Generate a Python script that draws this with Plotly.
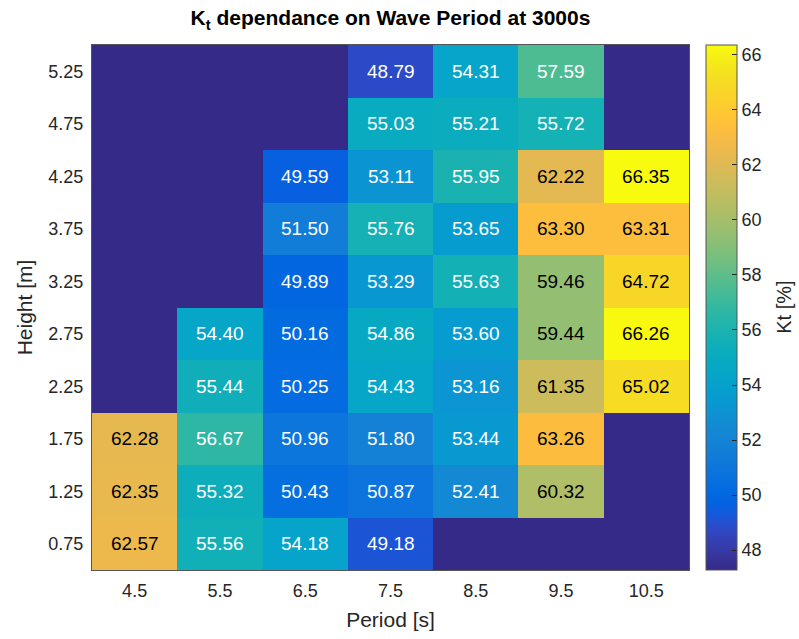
import numpy as np
import plotly.graph_objects as go

# Wave period categories [s] and wave height categories [m]
periods = ["4.5", "5.5", "6.5", "7.5", "8.5", "9.5", "10.5"]
heights = ["0.75", "1.25", "1.75", "2.25", "2.75", "3.25", "3.75", "4.25", "4.75", "5.25"]

# Kt [%] per height row (bottom to top), one value per period; None = no data
kt_h075 = [62.57, 55.56, 54.18, 49.18, None, None, None]
kt_h125 = [62.35, 55.32, 50.43, 50.87, 52.41, 60.32, None]
kt_h175 = [62.28, 56.67, 50.96, 51.80, 53.44, 63.26, None]
kt_h225 = [None, 55.44, 50.25, 54.43, 53.16, 61.35, 65.02]
kt_h275 = [None, 54.40, 50.16, 54.86, 53.60, 59.44, 66.26]
kt_h325 = [None, None, 49.89, 53.29, 55.63, 59.46, 64.72]
kt_h375 = [None, None, 51.50, 55.76, 53.65, 63.30, 63.31]
kt_h425 = [None, None, 49.59, 53.11, 55.95, 62.22, 66.35]
kt_h475 = [None, None, None, 55.03, 55.21, 55.72, None]
kt_h525 = [None, None, None, 48.79, 54.31, 57.59, None]

rows = [kt_h075, kt_h125, kt_h175, kt_h225, kt_h275,
        kt_h325, kt_h375, kt_h425, kt_h475, kt_h525]
z = np.array([[np.nan if v is None else v for v in r] for r in rows], dtype=float)

# Colour limits
cmin, cmax = 47.28, 66.35

# MATLAB parula (64 entries)
parula = [
    [0.2081, 0.1663, 0.5292], [0.2116, 0.1898, 0.5777], [0.2123, 0.2138, 0.6270],
    [0.2081, 0.2386, 0.6771], [0.1959, 0.2645, 0.7279], [0.1707, 0.2919, 0.7792],
    [0.1253, 0.3242, 0.8303], [0.0591, 0.3598, 0.8683], [0.0117, 0.3875, 0.8820],
    [0.0060, 0.4086, 0.8828], [0.0165, 0.4266, 0.8786], [0.0329, 0.4430, 0.8720],
    [0.0498, 0.4586, 0.8641], [0.0629, 0.4737, 0.8554], [0.0723, 0.4887, 0.8467],
    [0.0779, 0.5040, 0.8384], [0.0793, 0.5200, 0.8312], [0.0749, 0.5375, 0.8263],
    [0.0641, 0.5570, 0.8240], [0.0488, 0.5772, 0.8228], [0.0343, 0.5966, 0.8199],
    [0.0265, 0.6137, 0.8135], [0.0239, 0.6287, 0.8038], [0.0231, 0.6418, 0.7913],
    [0.0228, 0.6535, 0.7768], [0.0267, 0.6642, 0.7607], [0.0384, 0.6743, 0.7436],
    [0.0590, 0.6838, 0.7254], [0.0843, 0.6928, 0.7062], [0.1133, 0.7015, 0.6859],
    [0.1453, 0.7098, 0.6646], [0.1801, 0.7177, 0.6424], [0.2178, 0.7250, 0.6193],
    [0.2586, 0.7317, 0.5954], [0.3022, 0.7376, 0.5712], [0.3482, 0.7424, 0.5473],
    [0.3953, 0.7459, 0.5244], [0.4420, 0.7481, 0.5033], [0.4871, 0.7491, 0.4840],
    [0.5300, 0.7491, 0.4661], [0.5709, 0.7485, 0.4494], [0.6099, 0.7473, 0.4337],
    [0.6473, 0.7456, 0.4188], [0.6834, 0.7435, 0.4044], [0.7184, 0.7411, 0.3905],
    [0.7525, 0.7384, 0.3768], [0.7858, 0.7356, 0.3633], [0.8185, 0.7327, 0.3498],
    [0.8507, 0.7299, 0.3360], [0.8824, 0.7274, 0.3217], [0.9139, 0.7258, 0.3063],
    [0.9450, 0.7261, 0.2886], [0.9739, 0.7314, 0.2666], [0.9938, 0.7455, 0.2403],
    [0.9990, 0.7653, 0.2164], [0.9955, 0.7861, 0.1967], [0.9880, 0.8066, 0.1794],
    [0.9789, 0.8271, 0.1633], [0.9697, 0.8481, 0.1475], [0.9626, 0.8705, 0.1309],
    [0.9589, 0.8949, 0.1132], [0.9598, 0.9218, 0.0948], [0.9661, 0.9514, 0.0755],
    [0.9763, 0.9831, 0.0538],
]
n = len(parula)
colorscale = [[i / (n - 1), "rgb({},{},{})".format(*[int(round(c * 255)) for c in col])]
              for i, col in enumerate(parula)]
empty_color = colorscale[0][1]

FONT = "Liberation Sans, Arial, Helvetica, sans-serif"
TXT = "#262626"

fig = go.Figure(go.Heatmap(
    x=periods, y=heights, z=z,
    zmin=cmin, zmax=cmax, colorscale=colorscale,
    xgap=0, ygap=0, hoverongaps=False,
    colorbar=dict(
        x=1.029, xanchor="left", xpad=0, y=0.5, yanchor="middle", len=1, lenmode="fraction",
        ypad=0, thickness=31, outlinewidth=1, outlinecolor="#555555",
        tickvals=[48, 50, 52, 54, 56, 58, 60, 62, 64, 66],
        ticks="inside", ticklen=5, tickcolor=TXT,
        tickfont=dict(family=FONT, size=18, color=TXT),
    ),
))

# Cell value labels: dark text on bright cells, white text on dark cells
annotations = []
for i in range(len(heights)):
    for j in range(len(periods)):
        v = z[i, j]
        if np.isnan(v):
            continue
        annotations.append(dict(
            x=j, y=i, xref="x", yref="y", text=f"{v:.2f}", showarrow=False,
            font=dict(family=FONT, size=19, color="#000000" if v > 58 else "#ffffff"),
        ))

# Colour bar label, placed at the right edge of the figure
annotations.append(dict(
    text="Kt [%]", textangle=-90, showarrow=False,
    xref="paper", yref="paper", x=1.158, y=0.5, xanchor="center", yanchor="middle",
    font=dict(family=FONT, size=20, color=TXT),
))

fig.update_layout(
    width=799, height=639,
    margin=dict(l=92, r=110, t=45, b=67),
    paper_bgcolor="white", plot_bgcolor=empty_color,
    annotations=annotations,
    title=dict(text="<b>K<sub>t</sub> dependance on Wave Period at 3000s</b>",
               x=(92 + 689) / 2 / 799, xanchor="center", y=0.972, yanchor="middle",
               font=dict(family=FONT, size=21, color="#000000")),
    font=dict(family=FONT, size=19, color=TXT),
)
fig.update_xaxes(
    type="category", ticklabelstandoff=4,
    title=dict(text="Period [s]", font=dict(size=21, color=TXT), standoff=12),
    showgrid=False, zeroline=False, ticks="", showline=True, linecolor="#555555",
    linewidth=1, mirror=True, tickfont=dict(size=18, color=TXT),
)
fig.update_yaxes(
    type="category", ticklabelstandoff=4,
    title=dict(text="Height [m]", font=dict(size=21, color=TXT), standoff=10),
    showgrid=False, zeroline=False, ticks="", showline=True, linecolor="#555555",
    linewidth=1, mirror=True, tickfont=dict(size=18, color=TXT),
)

fig.write_html("out.html")
